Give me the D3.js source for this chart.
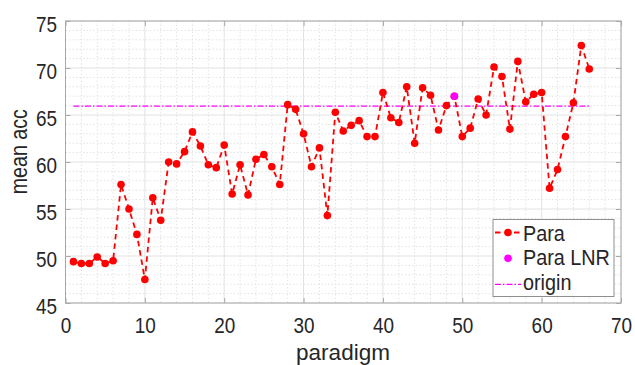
<!DOCTYPE html>
<html>
<head>
<meta charset="utf-8">
<script src="https://cdn.jsdelivr.net/npm/d3@7"></script>
<style>
  html, body { margin: 0; padding: 0; background: #ffffff; }
  svg { display: block; }
  text { font-family: "Liberation Sans", Arial, Helvetica, sans-serif; fill: #262626; }
</style>
</head>
<body>
<svg id="chart" width="635" height="365"></svg>
<script>
// paradigm index on the x axis
const paradigm = [1,2,3,4,5,6,7,8,9,10,11,12,13,14,15,16,17,18,19,20,21,22,23,24,25,26,27,28,29,30,
  31,32,33,34,35,36,37,38,39,40,41,42,43,44,45,46,47,48,49,50,51,52,53,54,55,56,57,58,59,60,61,62,63,64,65,66];
// mean accuracy per paradigm
const paraAcc = [49.4,49.2,49.2,49.9,49.2,49.5,57.6,55.0,52.3,47.5,
  56.2,53.8,60.0,59.8,61.1,63.2,61.7,59.7,59.4,61.8,
  56.6,59.7,56.5,60.3,60.8,59.5,57.6,66.1,65.6,63.0,
  59.5,61.5,54.3,65.3,63.3,63.9,64.4,62.7,62.7,67.4,
  64.7,64.2,68.0,62.0,67.9,67.1,63.4,66.0,67.0,62.7,
  63.6,66.7,65.0,70.1,69.1,63.5,70.7,66.4,67.2,67.4,
  57.2,59.2,62.7,66.3,72.4,69.9];
// LNR variant point
const lnrParadigm = [49];
const lnrAcc = [67.0];
// baseline ("origin") reference level
const originParadigm = [1, 66];
const originAcc = [65.95, 65.95];
// axis ticks
const xTicks = [0,10,20,30,40,50,60,70];
const yTicks = [45,50,55,60,65,70,75];
const xMinorTicks = d3.range(0, 70.001, 2);
const yMinorTicks = d3.range(45, 75.001, 1);

const svg = d3.select("#chart");
const x = d3.scaleLinear().domain([0, 70]).range([65.5, 621]);
const y = d3.scaleLinear().domain([45, 75]).range([303, 21]);
const [L, R] = x.range();
const [B, T] = y.range();

svg.append("rect").attr("width", 635).attr("height", 365).attr("fill", "#ffffff");

// grid: minor dotted, major solid
const grid = svg.append("g");
grid.selectAll(".xm").data(xMinorTicks.filter(v => !xTicks.includes(v))).join("line")
  .attr("x1", d => x(d)).attr("x2", d => x(d)).attr("y1", T).attr("y2", B)
  .attr("stroke", "#e3e3e3").attr("stroke-width", 1).attr("stroke-dasharray", "1.5,2");
grid.selectAll(".ym").data(yMinorTicks.filter(v => !yTicks.includes(v))).join("line")
  .attr("y1", d => y(d)).attr("y2", d => y(d)).attr("x1", L).attr("x2", R)
  .attr("stroke", "#e3e3e3").attr("stroke-width", 1).attr("stroke-dasharray", "1.5,2");
grid.selectAll(".xM").data(xTicks).join("line")
  .attr("x1", d => x(d)).attr("x2", d => x(d)).attr("y1", T).attr("y2", B)
  .attr("stroke", "#e2e2e2").attr("stroke-width", 1);
grid.selectAll(".yM").data(yTicks).join("line")
  .attr("y1", d => y(d)).attr("y2", d => y(d)).attr("x1", L).attr("x2", R)
  .attr("stroke", "#e2e2e2").attr("stroke-width", 1);

// origin reference line
const originPts = originParadigm.map((p, i) => [p, originAcc[i]]);
svg.append("path").datum(originPts)
  .attr("d", d3.line().x(d => x(d[0])).y(d => y(d[1])))
  .attr("fill", "none").attr("stroke", "#ff00ff").attr("stroke-width", 1.3)
  .attr("stroke-dasharray", "6,2,1.5,2");

// Para series
const paraPts = paradigm.map((p, i) => [p, paraAcc[i]]);
svg.append("path").datum(paraPts)
  .attr("d", d3.line().x(d => x(d[0])).y(d => y(d[1])))
  .attr("fill", "none").attr("stroke", "#ff0000").attr("stroke-width", 1.8)
  .attr("stroke-dasharray", "5.5,4");
svg.append("g").selectAll("circle").data(paraPts).join("circle")
  .attr("cx", d => x(d[0])).attr("cy", d => y(d[1])).attr("r", 3.8)
  .attr("fill", "#ff0000");

// Para LNR point
svg.append("g").selectAll("circle").data(lnrParadigm.map((p, i) => [p, lnrAcc[i]])).join("circle")
  .attr("cx", d => x(d[0])).attr("cy", d => y(d[1])).attr("r", 3.8)
  .attr("fill", "#ff00ff");

// axes frame with inward ticks
const axisColor = "#a8a8a8";
function styleAxis(g) {
  g.select(".domain").remove();
  g.selectAll(".tick line").attr("stroke", axisColor);
}
const xb = svg.append("g").attr("transform", `translate(0,${B})`)
  .call(d3.axisBottom(x).tickValues(xTicks).tickFormat(d3.format("d")).tickSizeInner(-5).tickSizeOuter(0));
styleAxis(xb);
xb.selectAll(".tick text")
  .attr("y", 0).attr("dy", null)
  .attr("transform", "translate(0,29.7) scale(0.88,1)")
  .style("font-size", "21.5px").attr("fill", "#262626")
  .attr("font-family", null);
const xt = svg.append("g").attr("transform", `translate(0,${T})`)
  .call(d3.axisTop(x).tickValues(xTicks).tickFormat("").tickSizeInner(-5).tickSizeOuter(0));
styleAxis(xt);

const yl = svg.append("g").attr("transform", `translate(${L},0)`)
  .call(d3.axisLeft(y).tickValues(yTicks).tickFormat(d3.format("d")).tickSizeInner(-5).tickSizeOuter(0));
styleAxis(yl);
yl.selectAll(".tick text")
  .attr("x", 0).attr("dy", null)
  .attr("transform", "translate(-8.5,10.4) scale(0.88,1)")
  .style("font-size", "21.5px").attr("fill", "#262626")
  .attr("font-family", null);
const yr = svg.append("g").attr("transform", `translate(${R},0)`)
  .call(d3.axisRight(y).tickValues(yTicks).tickFormat("").tickSizeInner(-5).tickSizeOuter(0));
styleAxis(yr);

svg.append("rect").attr("x", L).attr("y", T).attr("width", R - L).attr("height", B - T)
  .attr("fill", "none").attr("stroke", axisColor).attr("stroke-width", 1);

// axis labels
svg.append("text").attr("transform", "translate(343,359.5)")
  .attr("text-anchor", "middle").style("font-size", "22.5px").text("paradigm");
svg.append("text").attr("transform", "translate(26.5,151.7) rotate(-90) scale(0.82,1)")
  .attr("text-anchor", "middle").style("font-size", "24px").text("mean acc");

// legend
const lg = svg.append("g");
lg.append("rect").attr("x", 493).attr("y", 219.5).attr("width", 121).attr("height", 77)
  .attr("fill", "#ffffff").attr("stroke", "#8f8f8f").attr("stroke-width", 1);
const legendItems = [
  { label: "Para", line: true, dash: "5.5,4", color: "#ff0000", marker: true, cy: 232.5, base: 240.5 },
  { label: "Para LNR", line: false, color: "#ff00ff", marker: true, cy: 258.3, base: 265 },
  { label: "origin", line: true, dash: "6,2,1.5,2", color: "#ff00ff", marker: false, cy: 284.3, base: 290 }
];
legendItems.forEach(it => {
  if (it.line) {
    lg.append("line").attr("x1", 495).attr("x2", 521).attr("y1", it.cy).attr("y2", it.cy)
      .attr("stroke", it.color).attr("stroke-width", it.marker ? 1.8 : 1.3)
      .attr("stroke-dasharray", it.dash);
  }
  if (it.marker) {
    lg.append("circle").attr("cx", 508).attr("cy", it.cy).attr("r", 3.8).attr("fill", it.color);
  }
  lg.append("text").attr("transform", `translate(523,${it.base}) scale(0.88,1)`)
    .style("font-size", "22.5px").text(it.label);
});
</script>
</body>
</html>
